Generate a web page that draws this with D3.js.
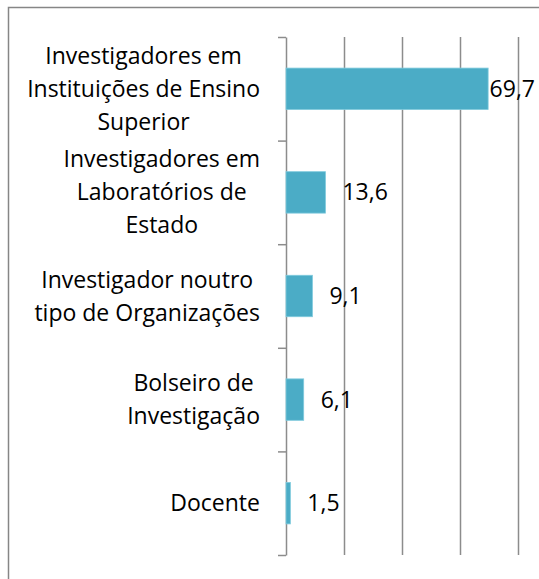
<!DOCTYPE html>
<html>
<head>
<meta charset="utf-8">
<script src="https://cdn.jsdelivr.net/npm/d3@7"></script>
<style>
  body { margin: 0; background: #fff; }
  text { font-family: "Open Sans", sans-serif; fill: #000; }
</style>
</head>
<body>
<svg id="canvas"></svg>
<script>
// chart data
const categories = [
    ['Investigadores em', 'Instituições de Ensino', 'Superior'],
    ['Investigadores em', 'Laboratórios de', 'Estado'],
    ['Investigador noutro', 'tipo de Organizações'],
    ['Bolseiro de', 'Investigação'],
    ['Docente']
]
const values = [69.7, 13.6, 9.1, 6.1, 1.5]
const gridTicks = [20, 40, 60, 80]

let width = 539
let height = 579
let svg = d3.select('#canvas')
    .attr('width', width)
    .attr('height', height)

// outer frame (right and bottom edges run off the picture)
svg.append('rect')
    .attr('x', 8.5)
    .attr('y', 7.5)
    .attr('width', 600)
    .attr('height', 600)
    .attr('fill', 'none')
    .attr('stroke', '#868686')
    .attr('stroke-width', 1.5)

// scales
let plotLeft = 286
let plotTop = 37
let plotBottom = 555
let xScale = d3.scaleLinear()
    .domain([0, 80])
    .range([plotLeft, 518])

let yScale = d3.scaleBand()
    .domain(d3.range(values.length))
    .range([plotTop, plotBottom])
    .paddingInner(0.6)
    .paddingOuter(0.3)

// vertical gridlines
let grid = d3.axisBottom(xScale)
    .tickValues(gridTicks)
    .tickSize(-(plotBottom - plotTop))
    .tickFormat('')
svg.append('g')
    .attr('transform', 'translate(0,' + plotBottom + ')')
    .call(grid)
    .call(g => g.select('.domain').remove())
    .call(g => g.selectAll('line').attr('stroke', '#8c8c8c').attr('stroke-width', 1.5))

// category axis, ticks between the bands
let edgeScale = d3.scaleLinear()
    .domain([0, values.length])
    .range([plotTop, plotBottom])
let yAxis = d3.axisLeft(edgeScale)
    .ticks(values.length)
    .tickSize(8)
    .tickSizeOuter(0)
    .tickFormat('')
svg.append('g')
    .attr('transform', 'translate(' + plotLeft + ',0)')
    .call(yAxis)
    .call(g => g.select('.domain').attr('stroke', '#8c8c8c').attr('stroke-width', 1.5))
    .call(g => g.selectAll('line').attr('stroke', '#8c8c8c').attr('stroke-width', 1.5))

// bars
svg.selectAll('rect.bar')
    .data(values)
    .enter()
    .append('rect')
    .attr('class', 'bar')
    .attr('x', xScale(0))
    .attr('y', (d, i) => yScale(i))
    .attr('width', (d) => xScale(d) - xScale(0))
    .attr('height', yScale.bandwidth())
    .attr('fill', '#4bacc6')
    .attr('stroke', '#7fcadd')
    .attr('stroke-width', 0.8)

// value labels, pulled back inside if they would run off the right edge
let fontSize = 23
svg.selectAll('text.value')
    .data(values)
    .enter()
    .append('text')
    .attr('class', 'value')
    .attr('font-size', fontSize)
    .attr('y', (d, i) => yScale(i) + yScale.bandwidth() / 2)
    .attr('dy', '0.35em')
    .text((d) => d3.format('.1f')(d).replace('.', ','))
    .attr('x', function (d) {
        let w = this.getComputedTextLength()
        return Math.min(xScale(d) + 17, width - w - 4)
    })

// category labels: lines centred in a block that is right-aligned near the axis
let lineHeight = 33
let labelRight = 260
categories.forEach((lines, i) => {
    let cy = yScale(i) + yScale.bandwidth() / 2
    let t = svg.append('text')
        .attr('font-size', fontSize)
        .attr('text-anchor', 'middle')
    let spans = lines.map((line, k) => t.append('tspan')
        .attr('y', cy + (k - (lines.length - 1) / 2) * lineHeight)
        .attr('dy', '0.35em')
        .text(line))
    let maxW = d3.max(spans, (s) => s.node().getComputedTextLength())
    spans.forEach((s) => s.attr('x', labelRight - maxW / 2))
})
</script>
</body>
</html>
